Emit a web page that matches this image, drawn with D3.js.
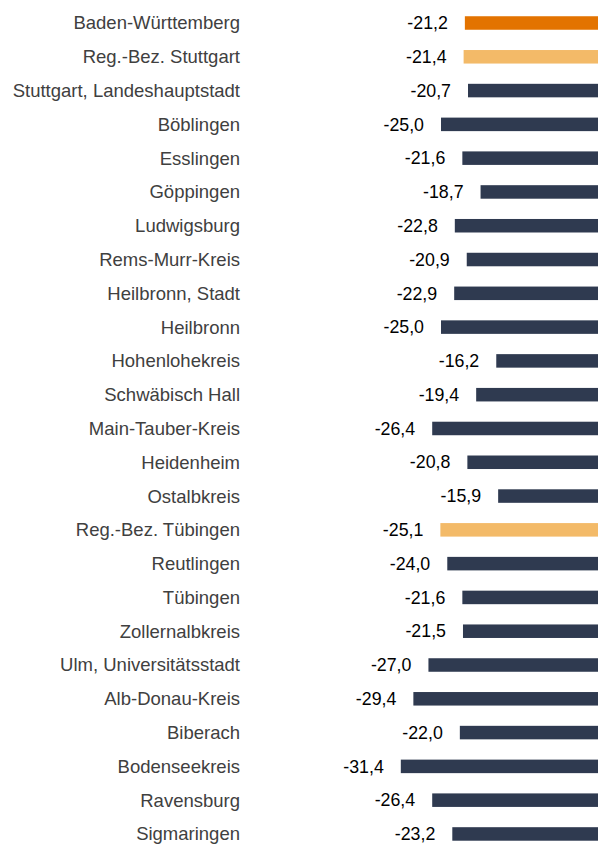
<!DOCTYPE html>
<html lang="de">
<head>
<meta charset="utf-8">
<script src="https://cdn.jsdelivr.net/npm/d3@7"></script>
<style>
  html, body { margin: 0; padding: 0; background: #fff; }
  svg { display: block; font-family: "Liberation Sans", Arial, sans-serif; }
</style>
</head>
<body>
<script>
// Regions (Land, Regierungsbezirke, Kreise) and their change values
const regions = [
  "Baden-Württemberg", "Reg.-Bez. Stuttgart", "Stuttgart, Landeshauptstadt",
  "Böblingen", "Esslingen", "Göppingen", "Ludwigsburg", "Rems-Murr-Kreis",
  "Heilbronn, Stadt", "Heilbronn", "Hohenlohekreis", "Schwäbisch Hall",
  "Main-Tauber-Kreis", "Heidenheim", "Ostalbkreis", "Reg.-Bez. Tübingen",
  "Reutlingen", "Tübingen", "Zollernalbkreis", "Ulm, Universitätsstadt",
  "Alb-Donau-Kreis", "Biberach", "Bodenseekreis", "Ravensburg", "Sigmaringen"
];
const values = [
  -21.2, -21.4, -20.7, -25.0, -21.6, -18.7, -22.8, -20.9, -22.9, -25.0,
  -16.2, -19.4, -26.4, -20.8, -15.9, -25.1, -24.0, -21.6, -21.5, -27.0,
  -29.4, -22.0, -31.4, -26.4, -23.2
];
// Level of each row: land, regierungsbezirk or kreis
const levels = [
  "land", "bezirk", "kreis", "kreis", "kreis", "kreis", "kreis", "kreis",
  "kreis", "kreis", "kreis", "kreis", "kreis", "kreis", "kreis", "bezirk",
  "kreis", "kreis", "kreis", "kreis", "kreis", "kreis", "kreis", "kreis", "kreis"
];

const data = regions.map((name, i) => ({ name, value: values[i], level: levels[i] }));

const W = 598, H = 846;
const colors = { land: "#E37300", bezirk: "#F3BA68", kreis: "#2F3A50" };
const fmt = v => d3.format(".1f")(v).replace(".", ",").replace("−", "-");

const svg = d3.select("body").append("svg")
  .attr("width", W).attr("height", H);

const x = d3.scaleLinear().domain([-40, 0]).range([W - 40 * 6.28, W]);
const y = d3.scaleBand().domain(regions)
  .range([6.1, 6.1 + 25 * 33.79])
  .paddingInner(0.6).paddingOuter(0.3);

const row = svg.selectAll("g.row").data(data).join("g").attr("class", "row");

row.append("rect")
  .attr("x", d => x(d.value))
  .attr("y", d => y(d.name))
  .attr("width", d => x(0) - x(d.value))
  .attr("height", y.bandwidth())
  .attr("fill", d => colors[d.level]);

row.append("text")
  .attr("x", d => x(d.value) - 17)
  .attr("y", d => y(d.name) + y.bandwidth() / 2)
  .attr("dy", "0.35em")
  .attr("text-anchor", "end")
  .attr("font-size", 17.8)
  .attr("fill", "#000")
  .text(d => fmt(d.value));

row.append("text")
  .attr("x", 240)
  .attr("y", d => y(d.name) + y.bandwidth() / 2)
  .attr("dy", "0.35em")
  .attr("text-anchor", "end")
  .attr("font-size", 18.5)
  .attr("fill", "#404040")
  .text(d => d.name);
</script>
</body>
</html>
